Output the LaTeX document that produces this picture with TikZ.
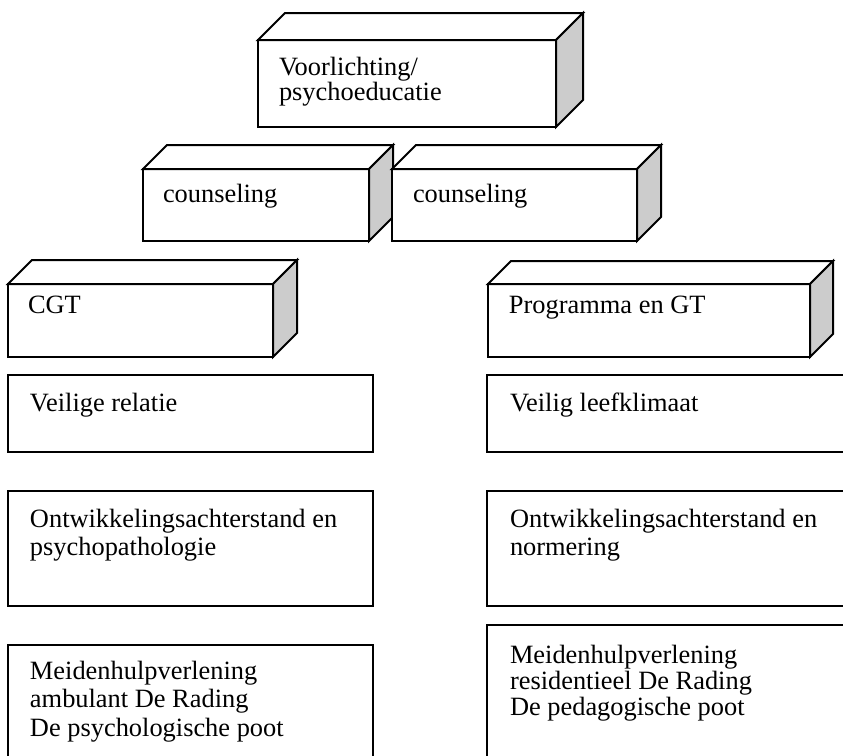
\documentclass[tikz,border=0pt]{standalone}
\usepackage{fontspec}
\setmainfont{Liberation Serif}
\usetikzlibrary{calc}
\definecolor{sideshade}{RGB}{204,204,204}
\tikzset{
  edge/.style={line width=1pt, line join=miter},
  face/.style={edge, draw=black, fill=white, anchor=north west, inner sep=0pt, outer sep=0pt},
  side/.style={edge, draw=black, fill=sideshade},
  topface/.style={edge, draw=black, fill=white},
  box/.style={edge, draw=black, fill=white, anchor=north west, inner sep=0pt, outer sep=0pt},
  label/.style={anchor=base west, inner sep=0pt, outer sep=0pt, font=\fontsize{13.2pt}{14pt}\selectfont}
}
% top and right faces of a block whose front face is node #1, depth #2
\newcommand\cubefaces[2]{%
  \filldraw[topface] (#1.north west) -- ++(#2,#2) -- ($(#1.north east)+(#2,#2)$) -- (#1.north east) -- cycle;
  \filldraw[side] (#1.north east) -- ++(#2,#2) -- ($(#1.south east)+(#2,#2)$) -- (#1.south east) -- cycle;
}
\begin{document}
\begin{tikzpicture}[x=0.5pt,y=-0.5pt]
\useasboundingbox (0,0) rectangle (843,756);
\clip (0,0) rectangle (843,756);

% blocks
\node[face, minimum width=149pt, minimum height=43.5pt] (vl) at (258,40) {};
\cubefaces{vl}{13.5pt}
\node[face, minimum width=113pt, minimum height=36pt] (cl) at (143,169) {};
\cubefaces{cl}{12pt}
\node[face, minimum width=122.5pt, minimum height=36pt] (cr) at (392,169) {};
\cubefaces{cr}{12pt}
\node[face, minimum width=132.5pt, minimum height=36.5pt] (cgt) at (8,284) {};
\cubefaces{cgt}{12pt}
\node[face, minimum width=161pt, minimum height=36.5pt] (prog) at (488,284) {};
\cubefaces{prog}{11.5pt}

% plain boxes, left column
\node[box, minimum width=182.5pt, minimum height=38.5pt] (l1) at (8,375) {};
\node[box, minimum width=182.5pt, minimum height=57.5pt] (l2) at (8,491) {};
\node[box, minimum width=182.5pt, minimum height=80pt] (l3) at (8,645) {};
% plain boxes, right column
\node[box, minimum width=200pt, minimum height=38.5pt] (r1) at (487,375) {};
\node[box, minimum width=200pt, minimum height=57.5pt] (r2) at (487,491) {};
\node[box, minimum width=200pt, minimum height=80pt] (r3) at (487,625) {};

% texts
\node[label] (tvl) at (279,75) {\parbox[t]{140pt}{\baselineskip=12.5pt Voorlichting/\\psychoeducatie}};
\node[label] (tcl) at (163,202) {counseling};
\node[label] (tcr) at (413,202) {counseling};
\node[label] (tcgt) at (28,313) {CGT};
\node[label] (tprog) at (509,313) {Programma en GT};
\node[label] (tl1) at (30,411) {Veilige relatie};
\node[label] (tr1) at (510,411) {Veilig leefklimaat};
\node[label] (tl2) at (30,527) {\parbox[t]{175pt}{\baselineskip=14pt Ontwikkelingsachterstand en\\psychopathologie}};
\node[label] (tr2) at (510,527) {\parbox[t]{175pt}{\baselineskip=14pt Ontwikkelingsachterstand en\\normering}};
\node[label] (tl3) at (30,679) {\parbox[t]{175pt}{\baselineskip=14.25pt Meidenhulpverlening\\ambulant De Rading\\De psychologische poot}};
\node[label] (tr3) at (510,663) {\parbox[t]{175pt}{\baselineskip=13pt Meidenhulpverlening\\residentieel De Rading\\De pedagogische poot}};
\end{tikzpicture}
\end{document}
